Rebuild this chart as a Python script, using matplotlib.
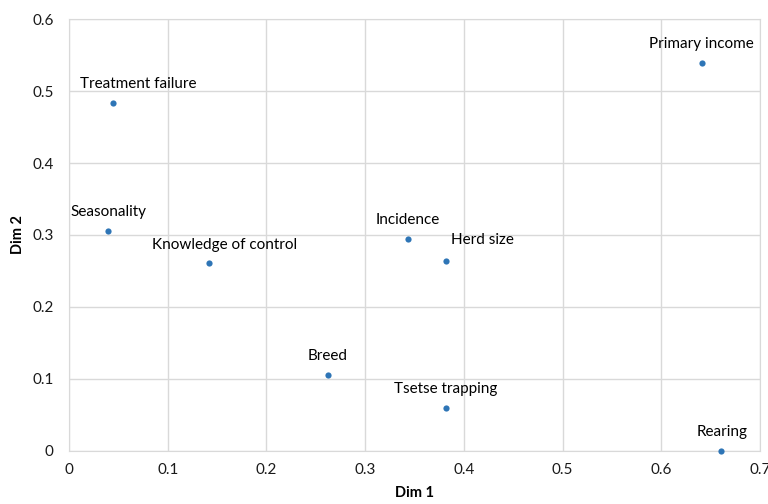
import matplotlib
matplotlib.use("Agg")
import matplotlib.pyplot as plt

labels = ["Treatment failure", "Seasonality", "Knowledge of control", "Breed",
          "Incidence", "Herd size", "Tsetse trapping", "Primary income", "Rearing"]
dim1 = [0.045, 0.040, 0.142, 0.262, 0.343, 0.382, 0.382, 0.641, 0.660]
dim2 = [0.483, 0.306, 0.261, 0.106, 0.294, 0.264, 0.060, 0.539, 0.000]
# label offsets in pixels (dx, dy) relative to the point
offsets = [(25, 19), (0, 19), (15, 18), (0, 19), (0, 19), (36, 21), (0, 19), (0, 19), (2, 19)]

plt.rcParams['font.family'] = ['Lato', 'DejaVu Sans']
fig = plt.figure(figsize=(7.68, 5.04), dpi=100)
ax = fig.add_axes([69/768, 53/504, 691/768, 432/504])

ax.scatter(dim1, dim2, s=20, color="#2E75B6", zorder=3, clip_on=False, linewidths=0)
for lab, x, y, (dx, dy) in zip(labels, dim1, dim2, offsets):
    ax.annotate(lab, (x, y), xytext=(dx*0.72, dy*0.72), textcoords="offset points",
                ha="center", va="center", fontsize=11, color="#000000")

ax.set_xlim(0, 0.7)
ax.set_ylim(0, 0.6)
ax.set_xticks([0, 0.1, 0.2, 0.3, 0.4, 0.5, 0.6, 0.7])
ax.set_xticklabels(["0", "0.1", "0.2", "0.3", "0.4", "0.5", "0.6", "0.7"])
ax.set_yticks([0, 0.1, 0.2, 0.3, 0.4, 0.5, 0.6])
ax.set_yticklabels(["0", "0.1", "0.2", "0.3", "0.4", "0.5", "0.6"])
ax.grid(True, color="#D9D9D9", linewidth=1)
ax.set_axisbelow(True)
for s in ax.spines.values():
    s.set_color("#D9D9D9")
ax.tick_params(length=0, labelsize=11, colors="#1a1a1a")
ax.tick_params(axis="y", pad=11)
ax.tick_params(axis="x", pad=9)
ax.set_xlabel("Dim 1", fontsize=10.5, fontweight="bold", labelpad=6)
ax.set_ylabel("Dim 2", fontsize=10.5, fontweight="bold", labelpad=5)

fig.savefig("out.png", dpi=100)
